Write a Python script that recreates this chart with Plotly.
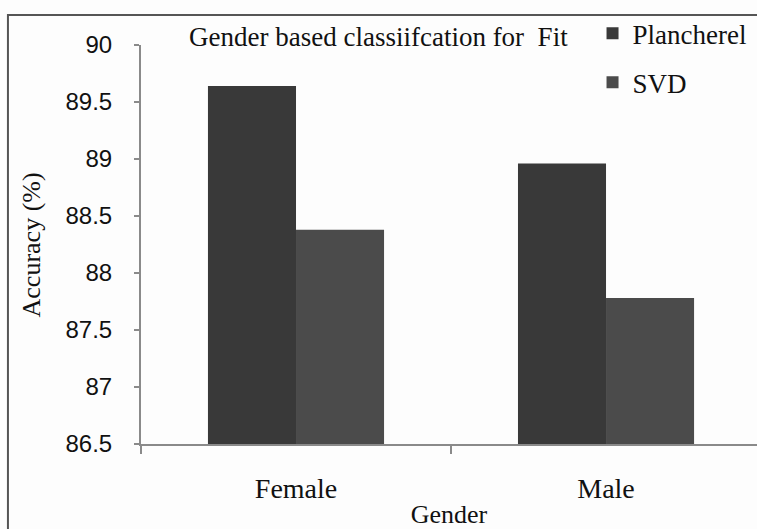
import plotly.graph_objects as go

# Accuracy (%) of gender-based classification on the Fit set
genders = ["Female", "Male"]
plancherel = [89.64, 88.96]
svd = [88.38, 87.78]

y_ticks = [86.5, 87, 87.5, 88, 88.5, 89, 89.5, 90]
y_tick_text = ["86.5", "87", "87.5", "88", "88.5", "89", "89.5", "90"]

serif = "Liberation Serif"
sans = "Liberation Sans"

fig = go.Figure()
fig.add_trace(go.Bar(name="Plancherel", x=genders, y=plancherel,
                     marker=dict(color="#393939", line=dict(width=0)),
                     legendgroup="a"))
fig.add_trace(go.Bar(name="SVD", x=genders, y=svd,
                     marker=dict(color="#4b4b4b", line=dict(width=0)),
                     legendgroup="b"))

fig.update_layout(
    width=757, height=529,
    margin=dict(l=141, r=0, t=45, b=85, autoexpand=False),
    paper_bgcolor="#fdfdfd", plot_bgcolor="#fdfdfd",
    barmode="group", bargap=0.432, bargroupgap=0,
    showlegend=True,
    legend=dict(x=0.733, y=1.09, xanchor="left", yanchor="top",
                font=dict(family=serif, size=27, color="#111"),
                tracegroupgap=11, bgcolor="rgba(0,0,0,0)",
                itemwidth=30),
    font=dict(family=serif, color="#111"),
)

fig.update_xaxes(
    type="category", range=[-0.5, 1.487],
    showline=True, linecolor="#8a8a8a", linewidth=2,
    ticks="outside", tickson="boundaries", ticklen=8, tickcolor="#8a8a8a",
    tickwidth=2,
    tickfont=dict(family=serif, size=28, color="#111"),
    ticklabelstandoff=18,
    showgrid=False, zeroline=False,
    title=dict(text="Gender", font=dict(family=serif, size=26, color="#111"),
               standoff=5),
)
fig.update_yaxes(
    range=[86.5, 90], tickvals=y_ticks, ticktext=y_tick_text,
    showline=True, linecolor="#8a8a8a", linewidth=2,
    ticks="outside", ticklen=5, tickcolor="#8a8a8a", tickwidth=2,
    tickfont=dict(family=sans, size=24, color="#111"),
    ticklabelstandoff=17,
    showgrid=False, zeroline=False,
)

# y-axis title
fig.add_annotation(text="Accuracy (%)", textangle=-90,
                   x=-0.177, y=0.5, xref="paper", yref="paper",
                   xanchor="center", yanchor="middle", showarrow=False,
                   font=dict(family=serif, size=26, color="#111"))

# chart heading
fig.add_annotation(text="Gender based classiifcation for  Fit",
                   x=0.385, y=1.02, xref="paper", yref="paper",
                   xanchor="center", yanchor="middle", showarrow=False,
                   font=dict(family=serif, size=27, color="#111"))

# outer chart frame
fig.add_shape(type="rect", xref="paper", yref="paper",
              x0=-0.216, x1=1.2, y0=-0.4, y1=1.075,
              line=dict(color="#555", width=2), fillcolor="rgba(0,0,0,0)",
              layer="below")

fig.write_html("out.html")
